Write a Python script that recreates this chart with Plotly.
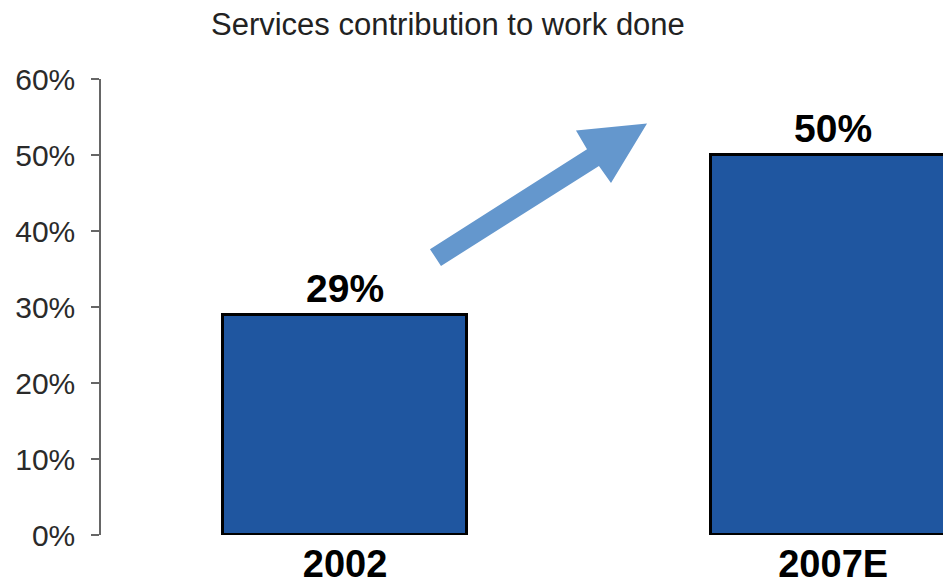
import plotly.graph_objects as go

categories = ["2002", "2007E"]
values = [0.29, 0.50]
value_labels = ["29%", "50%"]
title_text = "Services contribution to work done"
y_ticks = [0, 0.1, 0.2, 0.3, 0.4, 0.5, 0.6]
y_tick_labels = ["0%", "10%", "20%", "30%", "40%", "50%", "60%"]

# decorative arrow (paper coordinates)
arrow_pts = [(0.3907, 0.6269), (0.4038, 0.5900), (0.5914, 0.8091), (0.6057, 0.7722),
             (0.6485, 0.9024), (0.5641, 0.8872), (0.5772, 0.8460)]

bar_color = "#1f56a0"
arrow_color = "#6497cd"
light_font = "Liberation Sans, Arial, Helvetica"

fig = go.Figure()
fig.add_trace(go.Bar(
    x=[0, 1], y=values, width=0.5,
    marker=dict(color=bar_color, line=dict(color="black", width=3)),
    hoverinfo="skip",
))

for i, (v, t) in enumerate(zip(values, value_labels)):
    fig.add_annotation(x=i, y=v, xref="x", yref="y", text=t, showarrow=False,
                       yanchor="bottom", yshift=3,
                       font=dict(family="Liberation Sans, Arial", size=39, color="black", weight=700))

path = "M " + " L ".join(f"{x},{y}" for x, y in arrow_pts) + " Z"
fig.add_shape(type="path", path=path, xref="paper", yref="paper",
              fillcolor=arrow_color, line=dict(width=0), layer="above")

fig.update_layout(
    width=943, height=585,
    margin=dict(l=101, r=0, t=79, b=47),
    paper_bgcolor="white", plot_bgcolor="white",
    showlegend=False,
    title=dict(text=title_text, x=0.475, xanchor="center", y=0.958, yanchor="middle",
               font=dict(family=light_font, size=31, color="#222")),
    xaxis=dict(range=[-0.5, 1.225], tickmode="array", tickvals=[0, 1], ticktext=categories,
               showgrid=False, zeroline=False, showline=False, ticks="",
               tickfont=dict(family="Liberation Sans, Arial", size=38, color="black", weight=700),
               ticklabelstandoff=3),
    yaxis=dict(range=[0, 0.6], tickmode="array", tickvals=y_ticks, ticktext=y_tick_labels,
               showgrid=False, zeroline=False, showline=True, linecolor="#666", linewidth=1.5,
               ticks="outside", ticklen=8, tickcolor="#666", tickwidth=1.5,
               tickfont=dict(family=light_font, size=30, color="#2a2a2a"),
               ticklabelstandoff=10),
    bargap=0,
)

fig.write_html("out.html")
